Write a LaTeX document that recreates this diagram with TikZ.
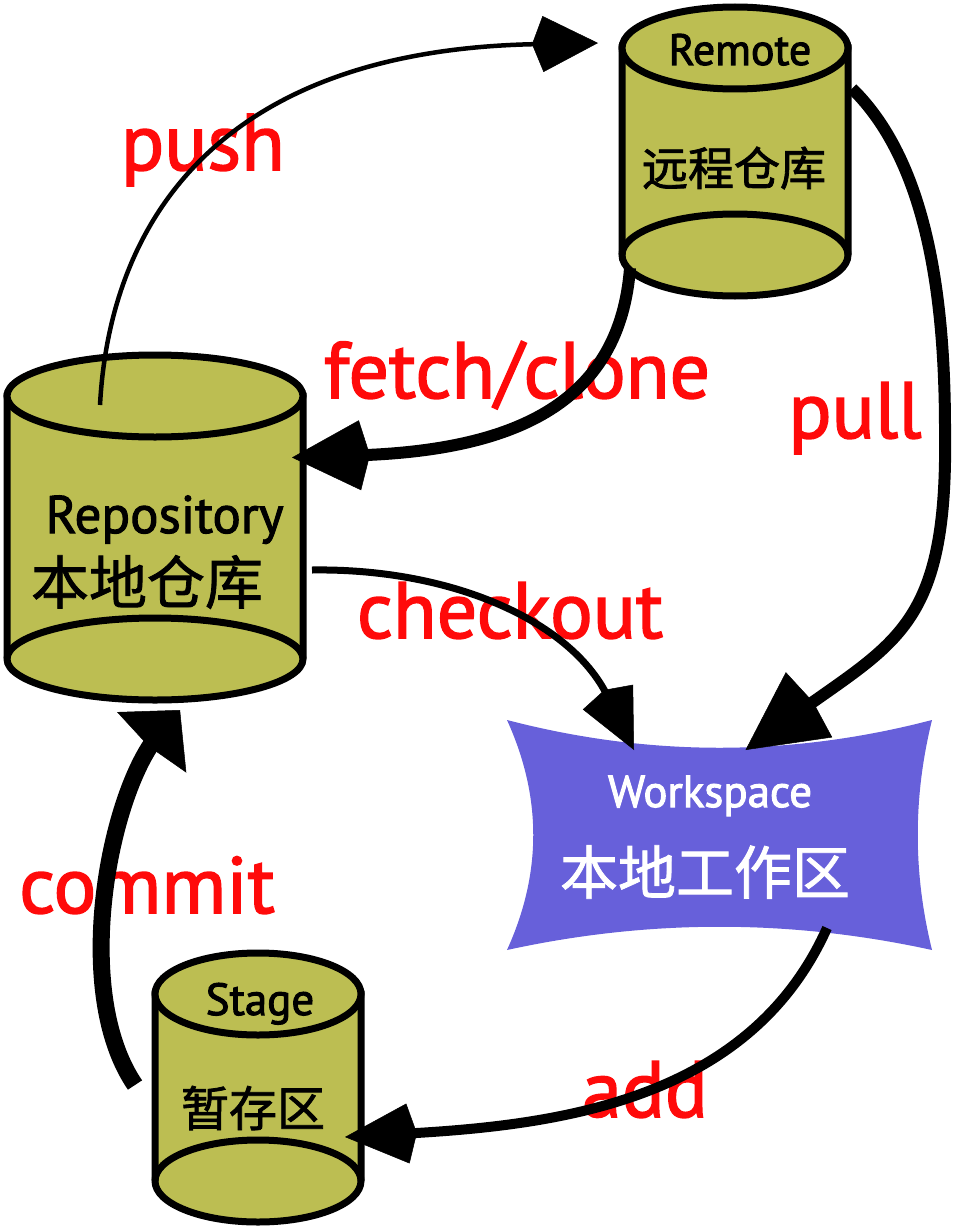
\documentclass[tikz,border=0pt]{standalone}
\usepackage{fontspec}
\setmainfont{PT Sans}
\newfontfamily\cjk{Noto Sans CJK SC}
\usepackage{tikz}
\usetikzlibrary{arrows.meta, positioning, calc, backgrounds}
\definecolor{dbolive}{RGB}{188, 190, 82}
\definecolor{wsblue}{RGB}{103, 96, 218}
\definecolor{opred}{RGB}{255, 10, 10}
\newcommand{\heavytext}[2]{\special{pdf:literal direct 2 Tr #1 w}#2\special{pdf:literal direct 0 Tr}}

\begin{document}
\begin{tikzpicture}[
    x=1pt, y=1pt,
    store/.style={inner sep=0pt, outer sep=0pt},
    drum/.style={draw=black, line width=7pt, fill=dbolive},
    rim/.style={draw=black, line width=7pt},
    oplabel/.style={text=opred, font=\fontsize{80}{80}\selectfont, anchor=base},
    enname/.style={font=\fontsize{#1}{#1}\selectfont, anchor=base},
    cnname/.style={font=\cjk\fontsize{#1}{#1}\selectfont},
    flow/.style={draw=black, line width=#1}
]
    \useasboundingbox (0,0) rectangle (953,-1228);

    \node[store, minimum width=226pt, minimum height=207pt] (remote) at (735,-151.5) {};
    \node[store, minimum width=296pt, minimum height=263pt] (repo) at (155,-527.5) {};
    \node[store, minimum width=206pt, minimum height=187pt] (stage) at (258,-1087.5) {};
    \node[store, minimum width=425pt, minimum height=230pt] (work) at (719.5,-835) {};

    \begin{scope}[on background layer]
        \foreach \db/\rx in {remote/113, repo/148, stage/103} {
            \draw[drum] (\db.north west) -- (\db.south west)
                arc[start angle=180, end angle=360, x radius=\rx, y radius=41]
                -- (\db.north east) -- cycle;
            \draw[drum] (\db.north) ellipse[x radius=\rx, y radius=41];
            \draw[rim] (\db.south west)
                arc[start angle=180, end angle=0, x radius=\rx, y radius=41];
        }
        \fill[wsblue] (work.north west)
            .. controls ($(work.north west)+(142,-37)$) and ($(work.north east)+(-142,-37)$) .. (work.north east)
            .. controls ($(work.north east)+(-19,-77)$) and ($(work.south east)+(-19,77)$) .. (work.south east)
            .. controls ($(work.south east)+(-142,31)$) and ($(work.south west)+(142,31)$) .. (work.south west)
            .. controls ($(work.south west)+(35,77)$) and ($(work.north west)+(35,-77)$) .. cycle;
    \end{scope}

    \node[enname=44] (remoteen) at (740,-65) {\heavytext{1}{Remote}};
    \node[cnname=46] (remotecn) at (734,-168) {\heavytext{0.8}{远程仓库}};
    \node[enname=53, anchor=base west] (repoen) at (42,-533) {\heavytext{1}{Repository}};
    \node[cnname=58] (repocn) at (147,-582) {\heavytext{0.8}{本地仓库}};
    \node[enname=45] (stageen) at (260,-1015) {\heavytext{1}{Stage}};
    \node[cnname=48] (stagecn) at (253,-1108) {\heavytext{0.8}{暂存区}};
    \node[enname=45, text=white] (worken) at (710,-807) {\heavytext{1}{Workspace}};
    \node[cnname=58, text=white] (workcn) at (705,-872) {\heavytext{0.8}{本地工作区}};

    \node[oplabel] (pushlbl) at (203,-170) {\heavytext{1.5}{push}};
    \node[oplabel] (fetchlbl) at (517,-398) {\heavytext{1.5}{fetch/clone}};
    \node[oplabel] (pulllbl) at (855,-438) {\heavytext{1.5}{pull}};
    \node[oplabel] (checkoutlbl) at (510,-638) {\heavytext{1.5}{checkout}};
    \node[oplabel] (commitlbl) at (147,-913) {\heavytext{1.5}{commit}};
    \node[oplabel] (addlbl) at (645,-1117) {\heavytext{1.5}{add}};

    \draw[flow=4.5pt, -{Kite[length=66pt, width=56pt, inset=11pt, line width=0.5pt]}]
        ([xshift=-55pt, yshift=-9pt]repo.north) .. controls (110,-220) and (220,-50)
        .. ([xshift=-24pt, yshift=5pt]remote.north west);
    \draw[flow=12pt, -{Kite[length=78pt, width=70pt, inset=10pt, line width=0.5pt]}]
        ([xshift=8pt, yshift=-13pt]remote.south west) .. controls (620,-400) and (520,-450)
        .. ([xshift=-11pt, yshift=70pt]repo.east);
    \draw[flow=12pt, -{Kite[length=83pt, width=80pt, inset=5pt, line width=0.5pt]}]
        ([xshift=4pt, yshift=63pt]remote.east) .. controls (925,-160) and (945,-290) .. (945,-430)
        .. controls (948,-620) and (900,-640) .. ([xshift=26pt, yshift=-30pt]work.north);
    \draw[flow=7pt, -{Kite[length=67pt, width=56pt, inset=8pt, line width=0.5pt]}]
        ([xshift=9pt, yshift=-42.5pt]repo.east) .. controls (450,-568) and (570,-620)
        .. ([xshift=-85.5pt, yshift=-30pt]work.north);
    \draw[flow=17pt, -{Kite[length=48pt, width=92pt, inset=5pt, line width=0.5pt]}]
        ([xshift=-20pt, yshift=2.5pt]stage.west) .. controls (70,-990) and (110,-790)
        .. ([xshift=25pt, yshift=-51pt]repo.south);
    \draw[flow=10pt, -{Kite[length=72pt, width=60pt, inset=9pt, line width=0.5pt]}]
        ([xshift=-105pt, yshift=22pt]work.south east) .. controls (750,-1100) and (560,-1125)
        .. ([xshift=-16pt, yshift=-49.5pt]stage.east);
\end{tikzpicture}
\end{document}
